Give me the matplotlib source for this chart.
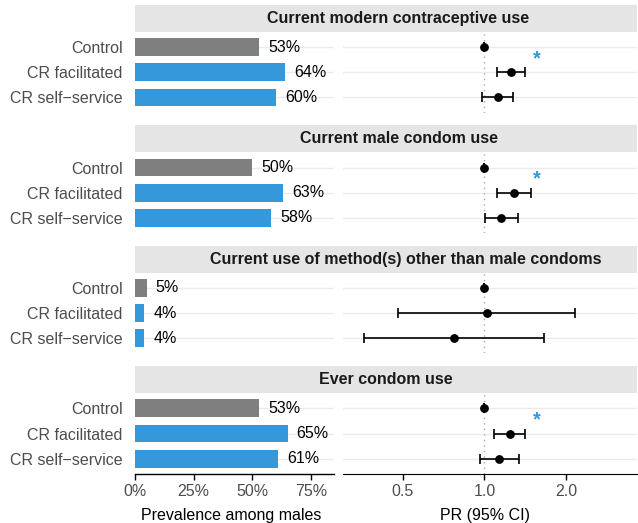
import matplotlib
matplotlib.use("Agg")
import matplotlib.pyplot as plt
import numpy as np

plt.rcParams['font.family'] = ['Liberation Sans', 'DejaVu Sans']

# ---------------- data ----------------
outcomes = ["Current modern contraceptive use",
            "Current male condom use",
            "Current use of method(s) other than male condoms",
            "Ever condom use"]
arms = ["Control", "CR facilitated", "CR self\u2212service"]

prev_modern = [53, 64, 60]
prev_male_condom = [50, 63, 58]
prev_other = [5, 4, 4]
prev_ever = [53, 65, 61]

pr_modern = [1.0, 1.254, 1.126]
lo_modern = [1.0, 1.111, 0.983]
hi_modern = [1.0, 1.412, 1.272]

pr_male_condom = [1.0, 1.283, 1.152]
lo_male_condom = [1.0, 1.111, 1.003]
hi_male_condom = [1.0, 1.486, 1.328]

pr_other = [1.0, 1.026, 0.773]
lo_other = [1.0, 0.481, 0.360]
hi_other = [1.0, 2.159, 1.664]

pr_ever = [1.0, 1.244, 1.136]
lo_ever = [1.0, 1.086, 0.964]
hi_ever = [1.0, 1.416, 1.342]

significant = [True, True, False, True]   # CR facilitated vs control
star_x = 1.555

prev_all = [prev_modern, prev_male_condom, prev_other, prev_ever]
pr_all = [pr_modern, pr_male_condom, pr_other, pr_ever]
lo_all = [lo_modern, lo_male_condom, lo_other, lo_ever]
hi_all = [hi_modern, hi_male_condom, hi_other, hi_ever]

x_ticks_left = [0, 25, 50, 75]
x_ticklabels_left = ["0%", "25%", "50%", "75%"]
x_ticks_right = [0.5, 1.0, 2.0]
x_ticklabels_right = ["0.5", "1.0", "2.0"]

# ---------------- style ----------------
W, H = 638, 523
fig = plt.figure(figsize=(W / 100, H / 100), dpi=100)

GREY = "#7f7f7f"
BLUE = "#3498db"
STRIP = "#e5e5e5"
GRID = "#ebebeb"
FS = 11.5

def rect(x0, y0, x1, y1):
    return [x0 / W, 1 - y1 / H, (x1 - x0) / W, (y1 - y0) / H]

title_cx = [398.5, 399.5, 405.5, 386]
LX0, LX1 = 135, 334.5
RX0, RX1 = 343.3, 637

for k in range(4):
    top = 5 + 120.4 * k
    s_bot = top + 27
    a_bot = top + 107.6

    # strip
    sax = fig.add_axes(rect(LX0, top, RX1, s_bot))
    sax.set_facecolor(STRIP)
    sax.set_xticks([]); sax.set_yticks([])
    for sp in sax.spines.values():
        sp.set_visible(False)
    sax.text((title_cx[k] - LX0) / (RX1 - LX0), 0.5, outcomes[k],
             transform=sax.transAxes, ha="center", va="center",
             fontsize=FS, fontweight="bold", color="#1a1a1a")

    ypos = np.arange(1, len(arms) + 1)

    # ---- left: prevalence bars ----
    ax = fig.add_axes(rect(LX0, s_bot, LX1, a_bot))
    colors = [GREY] + [BLUE] * (len(arms) - 1)
    for y in ypos:
        ax.axhline(y, color=GRID, lw=1.0, zorder=0)
    ax.barh(ypos, prev_all[k], height=0.7, color=colors, zorder=2)
    for y, v in zip(ypos, prev_all[k]):
        ax.annotate(f"{v}%", (v, y), xytext=(6.5, 0), textcoords="offset points",
                    ha="left", va="center", fontsize=FS, color="black")
    ax.set_xlim(0, 85)
    ax.set_ylim(3.6, 0.4)
    ax.set_yticks(ypos)
    ax.set_yticklabels(arms, fontsize=FS, color="#4d4d4d")
    ax.tick_params(axis="y", length=0, pad=9)
    for sp in ["top", "right", "left"]:
        ax.spines[sp].set_visible(False)
    ax.patch.set_alpha(0)
    if k == 3:
        ax.spines["bottom"].set_color("black")
        ax.spines["bottom"].set_linewidth(1.0)
        ax.set_xticks(x_ticks_left)
        ax.set_xticklabels(x_ticklabels_left, fontsize=FS, color="#4d4d4d")
        ax.tick_params(axis="x", length=4, width=1, color="black", pad=3)
        ax.set_xlabel("Prevalence among males", fontsize=FS, color="black", labelpad=4)
        ax.xaxis.set_label_coords(0.483, -0.43)
    else:
        ax.spines["bottom"].set_visible(False)
        ax.set_xticks([])

    # ---- right: prevalence ratios ----
    rx = fig.add_axes(rect(RX0, s_bot, RX1, a_bot))
    rx.set_xscale("log")
    for y in ypos:
        rx.axhline(y, color=GRID, lw=1.0, zorder=0)
    rx.axvline(1.0, color="#aaaaaa", lw=1.0, ls=(0, (1, 3)), zorder=1)
    pr = np.array(pr_all[k]); lo = np.array(lo_all[k]); hi = np.array(hi_all[k])
    rx.errorbar(pr, ypos, xerr=[pr - lo, hi - pr], fmt="o", color="black",
                ms=5.3, elinewidth=1.2, capsize=3.6, capthick=1.2, zorder=3)
    if significant[k]:
        rx.text(star_x, 1.68, "*", ha="center", va="baseline",
                fontsize=14.5, fontweight="bold", color=BLUE)
    rx.set_xlim(0.302, 3.65)
    rx.set_ylim(3.6, 0.4)
    rx.set_yticks([])
    rx.minorticks_off()
    for sp in ["top", "right", "left"]:
        rx.spines[sp].set_visible(False)
    rx.patch.set_alpha(0)
    if k == 3:
        rx.spines["bottom"].set_color("black")
        rx.set_xticks(x_ticks_right)
        rx.set_xticklabels(x_ticklabels_right, fontsize=FS, color="#4d4d4d")
        rx.tick_params(axis="x", which="major", length=4, width=1, color="black", pad=3)
        rx.tick_params(axis="x", which="minor", length=0)
        rx.set_xlabel("PR (95% CI)", fontsize=FS, color="black")
        rx.xaxis.set_label_coords(0.483, -0.43)
    else:
        rx.spines["bottom"].set_visible(False)
        rx.set_xticks([])
        rx.tick_params(axis="x", which="minor", length=0, labelbottom=False)

fig.savefig("out.png", dpi=100)
